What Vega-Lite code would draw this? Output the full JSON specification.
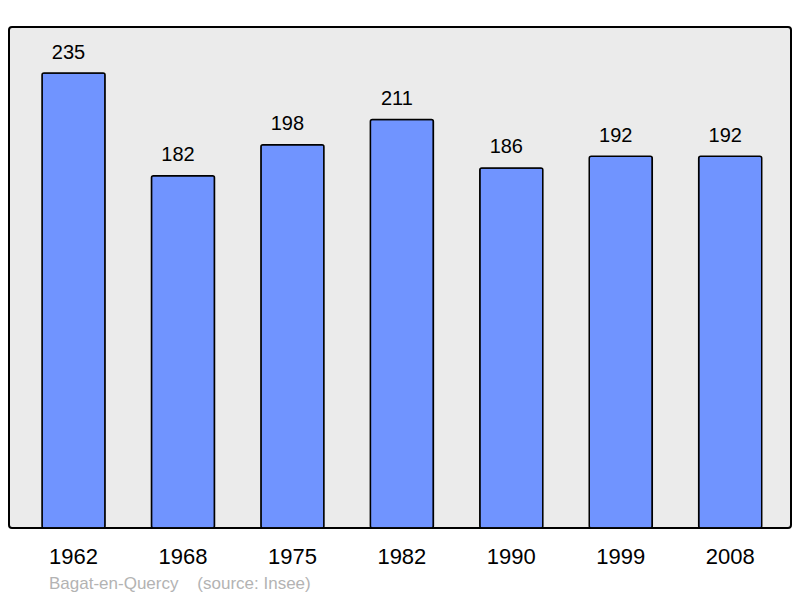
{
  "$schema": "https://vega.github.io/schema/vega-lite/v6.json",
  "width": 782,
  "height": 501,
  "autosize": {"type": "none"},
  "padding": {"left": 9, "top": 27, "right": 9, "bottom": 70},
  "background": "#ffffff",
  "config": {
    "font": "Liberation Sans",
    "view": {"fill": "#ebebeb", "stroke": "#000000", "strokeWidth": 2, "cornerRadius": 3}
  },
  "title": {
    "text": "Bagat-en-Quercy\u00a0\u00a0\u00a0\u00a0(source: Insee)",
    "orient": "bottom",
    "anchor": "start",
    "frame": "group",
    "dx": 40,
    "offset": 8,
    "fontSize": 17,
    "fontWeight": "normal",
    "color": "#b3b3b3",
    "font": "Liberation Sans"
  },
  "data": {
    "values": [
      {"year": "1962", "population": 235},
      {"year": "1968", "population": 182},
      {"year": "1975", "population": 198},
      {"year": "1982", "population": 211},
      {"year": "1990", "population": 186},
      {"year": "1999", "population": 192},
      {"year": "2008", "population": 192}
    ]
  },
  "encoding": {
    "x": {
      "field": "year",
      "type": "nominal",
      "sort": null,
      "scale": {"paddingInner": 0.424, "paddingOuter": 0.2846, "align": 0.53},
      "axis": {
        "title": null,
        "labelAngle": 0,
        "domain": false,
        "ticks": false,
        "tickSize": 0,
        "labelPadding": 18.5,
        "labelFontSize": 22,
        "labelColor": "#000000",
        "labelFont": "Liberation Sans"
      }
    },
    "y": {
      "field": "population",
      "type": "quantitative",
      "scale": {"domain": [0, 258.8], "nice": false, "zero": true},
      "axis": null
    }
  },
  "layer": [
    {
      "mark": {"type": "bar", "fill": "#7094ff", "stroke": "#000000", "strokeWidth": 1.5, "cornerRadius": 2}
    },
    {
      "mark": {"type": "text", "baseline": "alphabetic", "dx": -5, "dy": -14.5, "fontSize": 20, "color": "#000000", "font": "Liberation Sans"},
      "encoding": {"text": {"field": "population", "type": "quantitative"}}
    }
  ]
}
